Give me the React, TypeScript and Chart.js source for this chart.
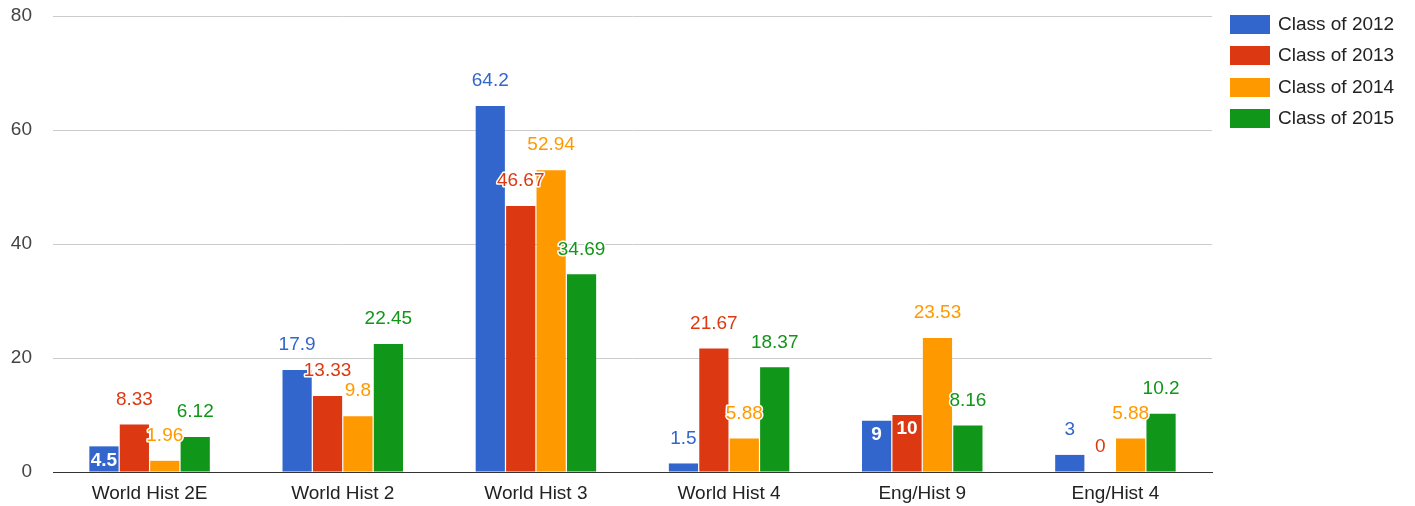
import React, { useEffect, useRef } from "react";
import { Chart, registerables } from "chart.js";

Chart.register(...registerables);

const categories = ["World Hist 2E", "World Hist 2", "World Hist 3", "World Hist 4", "Eng/Hist 9", "Eng/Hist 4"];
const seriesNames = ["Class of 2012", "Class of 2013", "Class of 2014", "Class of 2015"];
const class2012 = [4.5, 17.9, 64.2, 1.5, 9, 3];
const class2013 = [8.33, 13.33, 46.67, 21.67, 10, 0];
const class2014 = [1.96, 9.8, 52.94, 5.88, 23.53, 5.88];
const class2015 = [6.12, 22.45, 34.69, 18.37, 8.16, 10.2];
const yTicks = [0, 20, 40, 60, 80];
const colors = ["#3366cc", "#dc3912", "#ff9900", "#109618"];
// annotations that sit inside their bar: [seriesIndex, categoryIndex]
const insideLabels = [[0, 0], [0, 4], [1, 4]];

const FONT = "'Liberation Sans', Arial, sans-serif";

const labelPlugin = {
  id: "barLabels",
  afterDatasetsDraw(chart: any) {
    const ctx = chart.ctx;
    ctx.save();
    ctx.textAlign = "center";
    ctx.textBaseline = "middle";
    ctx.lineJoin = "round";
    chart.data.datasets.forEach((ds: any, i: number) => {
      const meta = chart.getDatasetMeta(i);
      meta.data.forEach((el: any, j: number) => {
        const v = ds.data[j];
        const txt = String(v);
        const inside = insideLabels.some((p) => p[0] === i && p[1] === j);
        if (inside) {
          ctx.font = `bold 19px ${FONT}`;
          ctx.fillStyle = "#ffffff";
          ctx.fillText(txt, el.x, el.y + 14);
        } else {
          ctx.font = `19px ${FONT}`;
          const y = el.y - 25;
          ctx.strokeStyle = "#ffffff";
          ctx.lineWidth = 3;
          ctx.strokeText(txt, el.x, y);
          ctx.fillStyle = ds.backgroundColor;
          ctx.fillText(txt, el.x, y);
        }
      });
    });
    ctx.restore();
  },
};

const legendPlugin = {
  id: "sideLegend",
  afterDraw(chart: any) {
    const ctx = chart.ctx;
    ctx.save();
    ctx.font = `19px ${FONT}`;
    ctx.textAlign = "left";
    ctx.textBaseline = "middle";
    const left = chart.chartArea.right + 18;
    chart.data.datasets.forEach((ds: any, i: number) => {
      const top = Math.round(15 + i * 31.3);
      ctx.fillStyle = ds.backgroundColor;
      ctx.fillRect(left, top, 40, 19);
      ctx.fillStyle = "#222222";
      ctx.fillText(ds.label, left + 48, top + 10);
    });
    ctx.restore();
  },
};

export default function App() {
  const ref = useRef<HTMLCanvasElement>(null);
  useEffect(() => {
    document.body.style.margin = "0";
    const values = [class2012, class2013, class2014, class2015];
    const chart = new Chart(ref.current!, {
      type: "bar",
      data: {
        labels: categories,
        datasets: seriesNames.map((name, i) => ({
          label: name,
          data: values[i],
          backgroundColor: colors[i],
          borderWidth: 0,
          categoryPercentage: 0.63,
          barPercentage: 0.96,
        })),
      },
      options: {
        animation: false,
        responsive: true,
        maintainAspectRatio: false,
        layout: { padding: { top: 16, right: 203, left: 0, bottom: 0 } },
        plugins: {
          legend: { display: false },
          tooltip: { enabled: false },
        },
        scales: {
          x: {
            grid: { display: false, drawTicks: false },
            border: { display: true, color: "#333333", width: 1 },
            ticks: { color: "#222222", font: { family: FONT, size: 19 }, padding: 10, maxRotation: 0 },
            afterFit: (axis: any) => {
              axis.height = 34;
            },
          },
          y: {
            min: 0,
            max: 80,
            afterBuildTicks: (axis: any) => {
              axis.ticks = yTicks.map((v) => ({ value: v }));
            },
            grid: {
              color: (c: any) => (c.tick && c.tick.value === 0 ? "#333333" : "#cccccc"),
              drawTicks: false,
            },
            border: { display: false },
            ticks: { color: "#444444", font: { family: FONT, size: 19 }, padding: 21 },
            afterFit: (axis: any) => {
              axis.width = 53;
              axis.paddingTop = 0;
              axis.paddingBottom = 0;
            },
          },
        },
      },
      plugins: [labelPlugin, legendPlugin],
    });
    return () => chart.destroy();
  }, []);
  return (
    <div style={{ width: 1415, height: 506, position: "relative" }}>
      <canvas ref={ref} />
    </div>
  );
}
